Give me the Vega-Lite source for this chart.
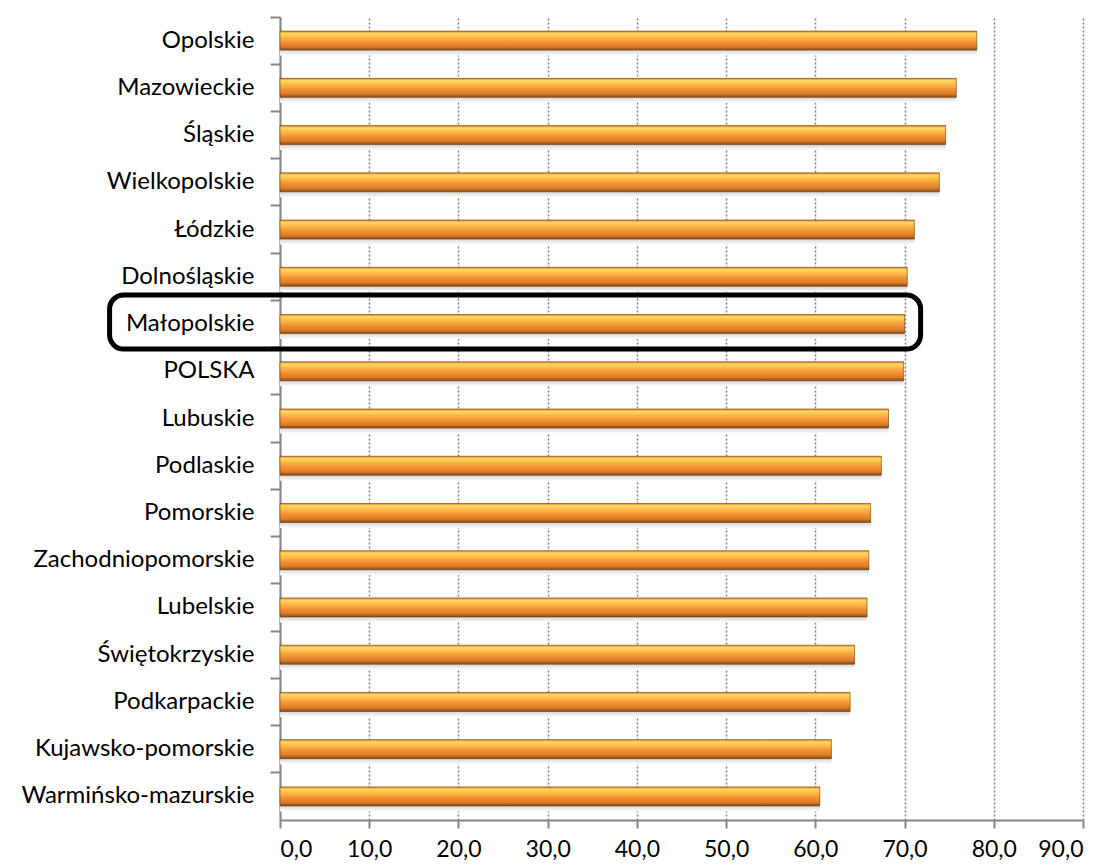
{
  "$schema": "https://vega.github.io/schema/vega-lite/v6.json",
  "width": 803,
  "height": 803,
  "autosize": {"type": "none"},
  "padding": {"left": 280, "top": 17, "right": 24, "bottom": 46},
  "background": "white",
  "config": {
    "view": {"stroke": null},
    "font": "Lato"
  },
  "datasets": {
    "regions": [
      {"region": "Opolskie", "value": 78.1},
      {"region": "Mazowieckie", "value": 75.8},
      {"region": "Śląskie", "value": 74.6},
      {"region": "Wielkopolskie", "value": 73.9},
      {"region": "Łódzkie", "value": 71.1},
      {"region": "Dolnośląskie", "value": 70.3},
      {"region": "Małopolskie", "value": 70.0},
      {"region": "POLSKA", "value": 69.9},
      {"region": "Lubuskie", "value": 68.2},
      {"region": "Podlaskie", "value": 67.4},
      {"region": "Pomorskie", "value": 66.2},
      {"region": "Zachodniopomorskie", "value": 66.0},
      {"region": "Lubelskie", "value": 65.8},
      {"region": "Świętokrzyskie", "value": 64.4},
      {"region": "Podkarpackie", "value": 63.9},
      {"region": "Kujawsko-pomorskie", "value": 61.8},
      {"region": "Warmińsko-mazurskie", "value": 60.5}
    ],
    "highlight": [
      {"region": "Małopolskie", "value": -19.1, "value2": 71.8}
    ]
  },
  "layer": [
    {
      "data": {"name": "regions"},
      "mark": {
        "type": "bar",
        "size": 10,
        "yOffset": 10,
        "color": {
          "gradient": "linear",
          "x1": 0, "y1": 0, "x2": 0, "y2": 1,
          "stops": [
            {"offset": 0, "color": "#b0b0b0"},
            {"offset": 0.5, "color": "#d8d8d8"},
            {"offset": 1, "color": "#ffffff"}
          ]
        }
      },
      "encoding": {
        "y": {
          "field": "region",
          "type": "nominal",
          "sort": null,
          "scale": {"paddingInner": 0, "paddingOuter": 0},
          "axis": {
            "title": null,
            "bandPosition": 0,
            "labelFontSize": 24,
            "labelColor": "#000000",
            "labelPadding": 16,
            "labelLimit": 400,
            "tickSize": 10,
            "tickColor": "#868686",
            "tickWidth": 2,
            "domainColor": "#868686",
            "domainWidth": 2,
            "grid": false
          }
        },
        "x": {
          "field": "value",
          "type": "quantitative",
          "scale": {"domain": [0, 90], "nice": false},
          "axis": {
            "title": null,
            "values": [0, 10, 20, 30, 40, 50, 60, 70, 80, 90],
            "labelExpr": "replace(format(datum.value, '.1f'), '.', ',')",
            "labelFontSize": 23,
            "labelColor": "#000000",
            "labelPadding": 10,
            "tickSize": 8,
            "tickColor": "#868686",
            "tickWidth": 2,
            "domainColor": "#868686",
            "domainWidth": 2,
            "grid": true,
            "gridColor": "#808080",
            "gridWidth": 1.5,
            "gridDash": [2, 2]
          }
        }
      }
    },
    {
      "data": {"name": "regions"},
      "mark": {
        "type": "bar",
        "size": 19,
        "stroke": "#6b3a10",
        "strokeWidth": 0.6,
        "color": {
          "gradient": "linear",
          "x1": 0, "y1": 0, "x2": 0, "y2": 1,
          "stops": [
            {"offset": 0, "color": "#E27E22"},
            {"offset": 0.12, "color": "#FFD865"},
            {"offset": 0.28, "color": "#FFC04C"},
            {"offset": 0.55, "color": "#F39535"},
            {"offset": 0.82, "color": "#DC7C26"},
            {"offset": 1, "color": "#84491A"}
          ]
        }
      },
      "encoding": {
        "y": {"field": "region", "type": "nominal", "sort": null},
        "x": {"field": "value", "type": "quantitative", "scale": {"domain": [0, 90], "nice": false}}
      }
    },
    {
      "data": {"name": "highlight"},
      "mark": {
        "type": "bar",
        "size": 54,
        "yOffset": -2,
        "fill": "transparent",
        "stroke": "#000000",
        "strokeWidth": 5,
        "cornerRadius": 14
      },
      "encoding": {
        "y": {"field": "region", "type": "nominal", "sort": null},
        "x": {"field": "value", "type": "quantitative", "scale": {"domain": [0, 90], "nice": false}},
        "x2": {"field": "value2"}
      }
    }
  ]
}
